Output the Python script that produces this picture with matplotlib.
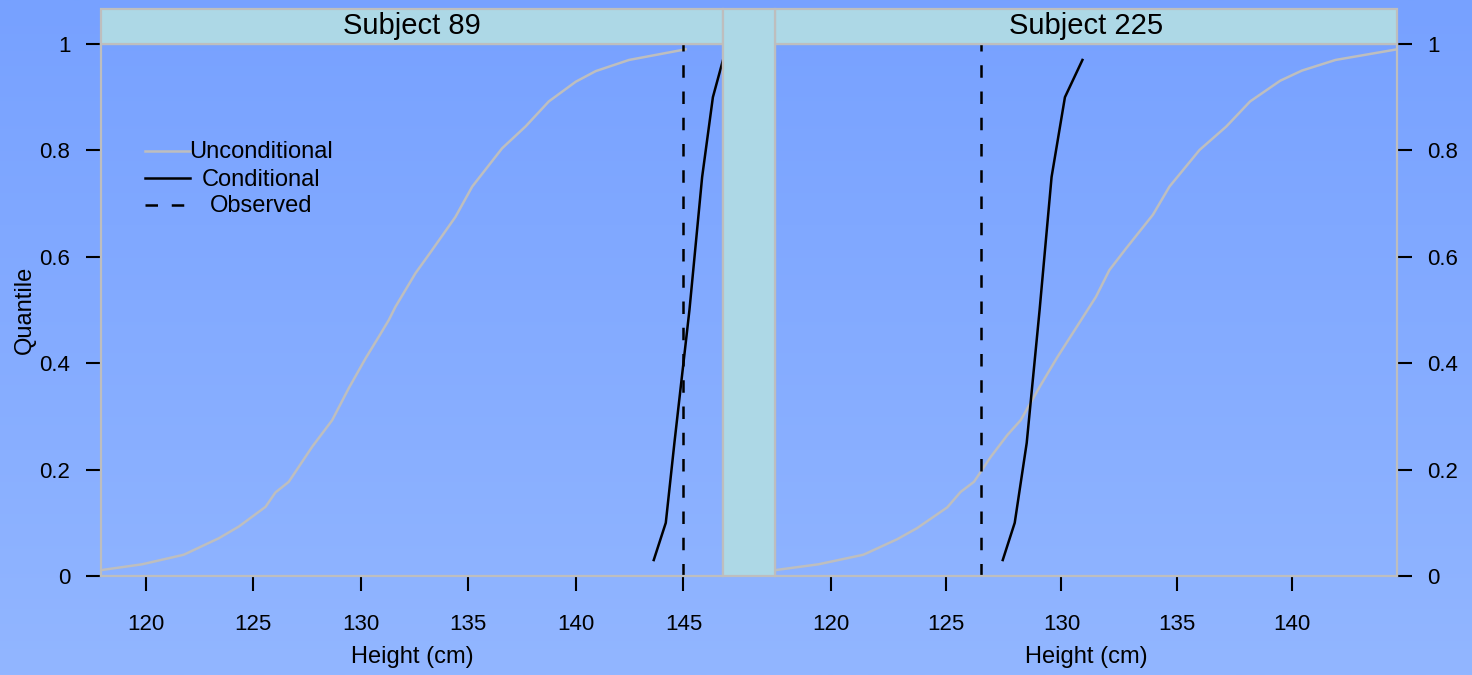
import numpy as np
import matplotlib
matplotlib.use("Agg")
import matplotlib.pyplot as plt
from matplotlib.patches import Rectangle

plt.rcParams['font.family'] = ['Liberation Sans', 'DejaVu Sans']

# data
subjects = ['Subject 89', 'Subject 225']

uncond89_h = [117.92, 119.83, 121.77, 123.40, 124.33, 125.57, 126.03, 126.65, 127.74, 128.67,
              129.44, 130.22, 130.84, 131.30, 131.61, 132.54, 133.32, 134.40, 135.18, 136.57,
              137.66, 138.74, 139.99, 140.92, 142.47, 145.10]
uncond89_q = [0.011, 0.022, 0.040, 0.071, 0.093, 0.130, 0.157, 0.177, 0.243, 0.293,
              0.353, 0.409, 0.450, 0.481, 0.506, 0.569, 0.613, 0.675, 0.732, 0.804,
              0.845, 0.892, 0.929, 0.949, 0.970, 0.990]

uncond225_h = [117.56, 119.45, 121.40, 122.86, 123.73, 125.04, 125.62, 126.20, 126.93, 127.65,
               128.23, 129.10, 129.83, 130.88, 131.50, 132.08, 132.81, 133.97, 134.69, 136.00,
               137.16, 138.19, 139.50, 140.44, 141.90, 144.57]
uncond225_q = [0.011, 0.022, 0.040, 0.069, 0.090, 0.129, 0.158, 0.177, 0.224, 0.265,
               0.293, 0.359, 0.412, 0.483, 0.525, 0.575, 0.616, 0.679, 0.732, 0.801,
               0.845, 0.892, 0.931, 0.950, 0.970, 0.990]

cond_q = [0.03, 0.10, 0.25, 0.50, 0.75, 0.90, 0.97]
cond89_h = [143.62, 144.18, 144.58, 145.28, 145.87, 146.37, 146.84]
cond225_h = [127.45, 127.97, 128.49, 129.05, 129.57, 130.15, 130.91]

observed = [145.0, 126.5]

xticks89 = [120, 125, 130, 135, 140, 145]
xticks225 = [120, 125, 130, 135, 140]
yticks = [0, 0.2, 0.4, 0.6, 0.8, 1]

W, H = 1472, 675
fig = plt.figure(figsize=(W / 100, H / 100), dpi=100)

# gradient background
bg = fig.add_axes([0, 0, 1, 1], zorder=-10)
top = np.array([119, 161, 255]) / 255
bot = np.array([146, 182, 255]) / 255
t = np.linspace(0, 1, 256)[:, None]
grad = (top[None, :] * (1 - t) + bot[None, :] * t)[:, None, :]
bg.imshow(grad, aspect='auto', extent=[0, 1, 0, 1])
bg.set_axis_off()

strip_col = '#ADD8E6'
border = '#BEBEBE'
lw = 1.8


def px(x0, y0, x1, y1):
    return [x0 / W, (H - y1) / H, (x1 - x0) / W, (y1 - y0) / H]


# strips and the gap column
for x0, x1, y0, y1 in [(101, 723, 9, 44), (775, 1397, 9, 44), (723, 775, 9, 576)]:
    fig.patches.append(Rectangle((x0 / W, (H - y1) / H), (x1 - x0) / W, (y1 - y0) / H,
                                 transform=fig.transFigure, facecolor=strip_col,
                                 edgecolor=border, linewidth=1.6, zorder=1))

panels = [
    (px(101, 44, 723, 576), uncond89_h, uncond89_q, cond89_h, observed[0], xticks89, 'left'),
    (px(775, 44, 1397, 576), uncond225_h, uncond225_q, cond225_h, observed[1], xticks225, 'right'),
]

axes = []
for i, (rect, uh, uq, ch, obs, xt, side) in enumerate(panels):
    ax = fig.add_axes(rect)
    ax.set_facecolor('none')
    ax.plot(uh, uq, color=border, lw=lw)
    ax.plot(ch, cond_q, color='black', lw=lw)
    ax.axvline(obs, color='black', lw=lw, ls=(0, (5, 5.5)))
    lo = min(min(uh), min(ch))
    hi = max(max(uh), max(ch))
    ax.set_xlim(lo, hi)
    ax.set_ylim(0, 1)
    ax.set_xticks(xt)
    ax.set_xticklabels([str(v) for v in xt])
    ax.set_yticks(yticks)
    ax.set_yticklabels(['%g' % v for v in yticks])
    ax.tick_params(axis='both', length=11, width=1.5, color='black', labelsize=16, direction='out')
    ax.tick_params(axis='x', pad=16.5)
    ax.tick_params(axis='y', pad=11)
    if side == 'right':
        ax.yaxis.tick_right()
    for s in ax.spines.values():
        s.set_color(border)
        s.set_linewidth(1.6)
    ax.set_xlabel('Height (cm)', fontsize=17, labelpad=7.5)
    # strip label
    fig.text((rect[0] + rect[2] / 2), (H - 26.5) / H, subjects[i], ha='center', va='center',
             fontsize=21)
    axes.append(ax)

fig.text(25 / W, 0.5 * (2 * H - 44 - 576) / H, 'Quantile', rotation=90, ha='center',
         va='center', fontsize=17)

# legend (lattice style key: lines then centered text)
ax = axes[0]
keys = [('Unconditional', border, '-'), ('Conditional', 'black', '-'), ('Observed', 'black', (0, (5, 5.5)))]
for j, (lab, col, ls) in enumerate(keys):
    yy = 1 - (151 + 27 * j - 44) / 532
    ax.plot([(145 - 101) / 622, (190 - 101) / 622], [yy, yy], transform=ax.transAxes,
            color=col, lw=lw, ls=ls)
    ax.text((261 - 101) / 622, yy - 1.5 / 532, lab, transform=ax.transAxes, ha='center',
            va='center', fontsize=17)

fig.savefig('out.png', dpi=100)
